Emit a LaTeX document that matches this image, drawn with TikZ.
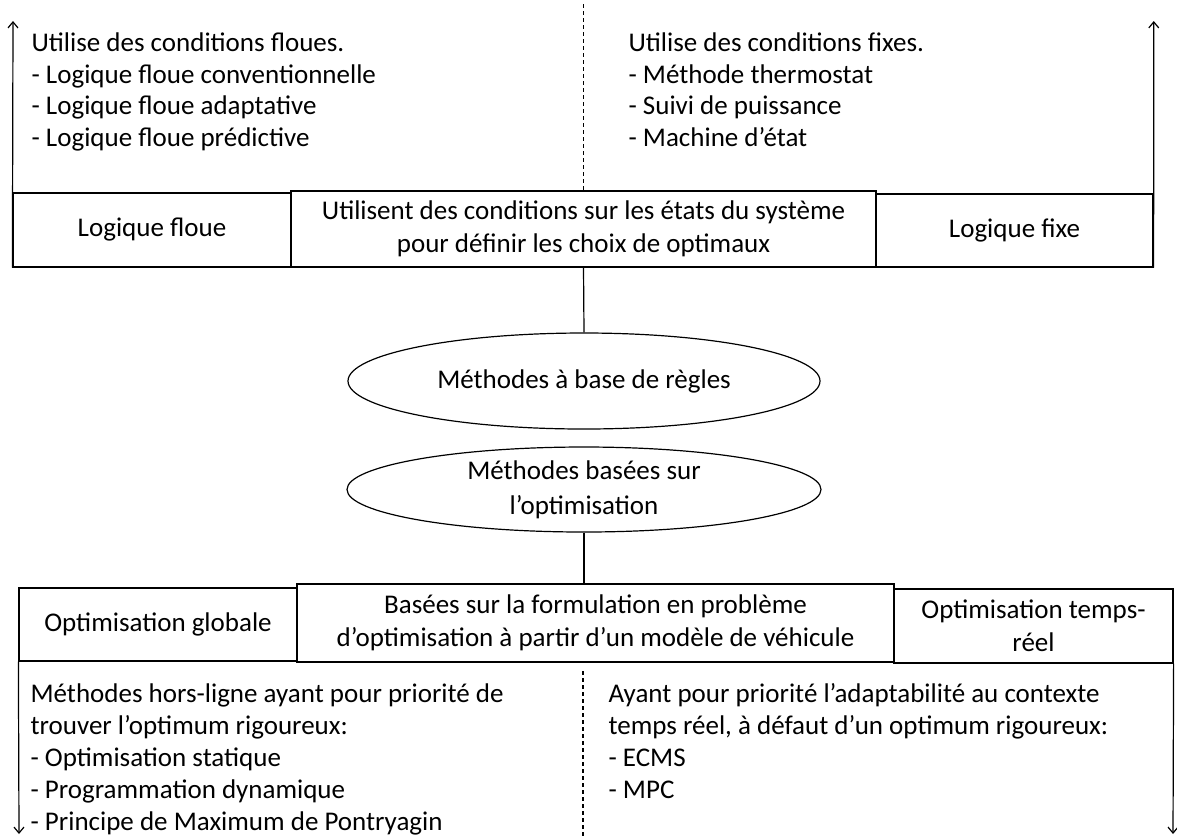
\documentclass[tikz,border=0pt]{standalone}
\usepackage{fontspec}
\setmainfont{Carlito}
\usetikzlibrary{shapes.geometric,arrows.meta}

\tikzset{
  boite/.style={draw, rectangle, inner sep=0pt, align=center, font=\fontsize{13.5}{16.5}\selectfont},
  ovale/.style={draw, ellipse, inner sep=0pt, align=center, font=\fontsize{13.5}{17.5}\selectfont},
  liste/.style={anchor=base west, inner sep=0pt, align=left},
  fleche/.style={-{Straight Barb[length=3pt,width=5pt]}},
  pointille/.style={dash pattern=on 2pt off 1.5pt}
}

\begin{document}
\begin{tikzpicture}[x=0.5pt,y=-0.5pt,line width=0.6pt,font=\fontsize{13.5}{15.7}\selectfont]
\useasboundingbox (0,0) rectangle (1177,837);
% methodes a base de regles
\node[boite,minimum width=139pt,minimum height=37pt]    (floue) at (152,230)     {Logique floue};
\node[boite,minimum width=138.5pt,minimum height=36.5pt] (fixe) at (1014.5,230.5) {Logique fixe};
\node[boite,fill=white,minimum width=292.5pt,minimum height=38pt] (etats) at (583.5,229)
  {Utilisent des conditions sur les états du système\\pour définir les choix de optimaux};
% (base = ligne du bas)
\node[liste] (floue_txt) at (31,146) {Utilise des conditions floues.\\- Logique floue conventionnelle\\- Logique floue adaptative\\- Logique floue prédictive};
\node[liste] (fixe_txt) at (628,146) {Utilise des conditions fixes.\\- Méthode thermostat\\- Suivi de puissance\\- Machine d’état};
\coordinate (haut_g) at (13,21);
\coordinate (haut_d) at (1153.75,21);
\coordinate (sep_h) at (583.5,4);
\draw[fleche] (floue.south west) -- (haut_g);
\draw[fleche] (fixe.south east) -- (haut_d);
\draw[pointille] (sep_h) -- (etats.north);

% les deux familles
\node[ovale,minimum width=236pt,minimum height=48pt]   (regles) at (584,381)   {Méthodes à base de règles};
\node[ovale,minimum width=237pt,minimum height=42.5pt] (optim)  at (584,489.5) {Méthodes basées sur\\l’optimisation};
\draw (etats.south) -- (regles.north);

% methodes basees sur l'optimisation
\node[boite,minimum width=139pt,minimum height=36.5pt]  (globale) at (158,624.5) {Optimisation globale};
\node[boite,minimum width=139.5pt,minimum height=37pt]  (temps)   at (1033.5,626) {Optimisation temps-\\réel};
\node[boite,fill=white,minimum width=298.5pt,minimum height=39pt] (modele) at (595.5,623)
  {Basées sur la formulation en problème\\d’optimisation à partir d’un modèle de véhicule};
\draw (optim.south) -- (optim.south |- modele.north);
\node[liste,font=\fontsize{13.5}{16}\selectfont] (globale_txt) at (30,830) {Méthodes hors-ligne ayant pour priorité de\\trouver l’optimum rigoureux:\\- Optimisation statique\\- Programmation dynamique\\- Principe de Maximum de Pontryagin};
\node[liste,font=\fontsize{13.5}{16}\selectfont] (temps_txt) at (608,798) {Ayant pour priorité l’adaptabilité au contexte\\temps réel, à défaut d’un optimum rigoureux:\\- ECMS\\- MPC};
\coordinate (bas_g) at (19,834);
\coordinate (bas_d) at (1173,834);
\coordinate (sep_b1) at (583,671);
\coordinate (sep_b2) at (583,837);
\draw[fleche] (globale.south west) -- (bas_g);
\draw[fleche] (temps.south east) -- (bas_d);
\draw[pointille] (sep_b1) -- (sep_b2);
\end{tikzpicture}
\end{document}
